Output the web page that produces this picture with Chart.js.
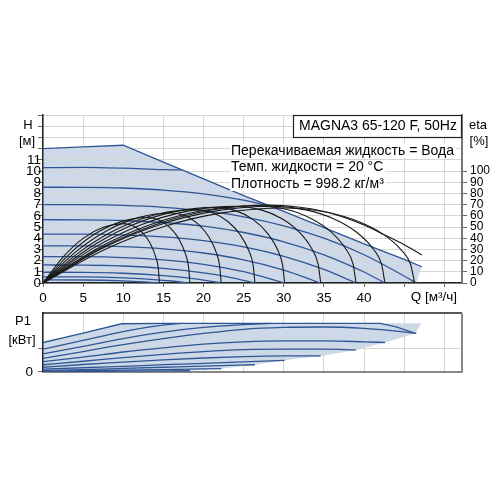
<!DOCTYPE html>
<html>
<head>
<meta charset="utf-8">
<script src="https://cdn.jsdelivr.net/npm/chart.js@4/dist/chart.umd.min.js"></script>
<style>
  body { margin: 0; background: #fff; width: 500px; height: 500px; position: relative; overflow: hidden; }
  canvas { position: absolute; left: 0; }
  #hChart { top: 100px; }
  #pChart { top: 300px; }
</style>
</head>
<body>
<canvas id="hChart" width="500" height="210"></canvas>
<canvas id="pChart" width="500" height="85"></canvas>
<script>
// ---- data: [Q m3/h, value] ----
const modelName = 'MAGNA3 65-120 F, 50Hz';
const infoLines = ['Перекачиваемая жидкость = Вода', 'Темп. жидкости = 20 °C', 'Плотность = 998.2 кг/м³'];

// head curves H [m]
const hMax = [[0,12.0],[5,12.15],[10,12.3],[15,10.8],[20,9.3],[25,7.8],[30,6.4],[35,4.95],[40,3.5],[45,2.1],[47.2,1.45]];
const hL1 = [[0,10.3],[5,10.32],[10,10.25],[15,10.12],[17.3,10.1]];
const hL2 = [[0,8.55],[5,8.54],[10,8.48],[15,8.3],[20,7.96],[25,7.39],[28.4,6.85]];
const hL3 = [[0,7.0],[5,6.99],[10,6.93],[15,6.76],[20,6.44],[25,5.91],[30,5.11],[35,4.0],[40,2.52],[45,0.62],[46.5,0]];
const hL4 = [[0,5.65],[5,5.64],[10,5.58],[15,5.4],[20,5.07],[25,4.51],[30,3.68],[35,2.52],[40,0.98],[42.6,0]];
const hL5 = [[0,4.37],[5,4.36],[10,4.3],[15,4.12],[20,3.78],[25,3.22],[30,2.38],[35,1.21],[39,0]];
const hL6 = [[0,3.32],[5,3.31],[10,3.24],[15,3.05],[20,2.68],[25,2.07],[30,1.16],[34.6,0]];
const hL7 = [[0,2.36],[5,2.35],[10,2.27],[15,2.07],[20,1.67],[25,1.01],[30.1,0]];
const hL8 = [[0,1.61],[5,1.6],[10,1.52],[15,1.31],[20,0.91],[23,0.55],[26.4,0]];
const hL9 = [[0,0.96],[5,0.95],[10,0.87],[15,0.66],[18,0.45],[20,0.26],[22.2,0]];
const hL10 = [[0,0.55],[5,0.54],[10,0.46],[13,0.35],[16,0.18],[18.3,0]];
const hL11 = [[0,0.28],[5,0.27],[10,0.19],[12.5,0.1],[14.5,0]];
const hFillEnd = [[46.5,0],[0,0]];

// efficiency curves eta [%]
const eta1 = [[0,0],[2.5,23.2],[5,39.8],[7.5,49.7],[10,53],[11.35,50.6],[12.48,44.3],[13.38,35],[14.05,23.1],[14.37,12.9],[14.5,0]];
const eta2 = [[0,0],[3.25,25.6],[6.5,43.9],[9.75,54.8],[13,58.5],[14.59,55.8],[15.92,48.8],[16.98,38.7],[17.77,25.5],[18.14,14.2],[18.3,0]];
const eta3 = [[0,0],[4,27.3],[8,46.9],[12,58.6],[16,62.5],[17.86,59.6],[19.41,52.2],[20.65,41.3],[21.58,27.3],[22.01,15.2],[22.2,0]];
const eta4 = [[0,0],[4.75,28.7],[9.5,49.1],[14.25,61.4],[19,65.5],[21.22,62.5],[23.07,54.7],[24.55,43.3],[25.66,28.6],[26.18,15.9],[26.4,0]];
const eta5 = [[0,0],[5.4,29.5],[10.75,50.6],[16.1,63.3],[21.5,67.5],[24.08,64.4],[26.23,56.4],[27.95,44.6],[29.24,29.4],[29.84,16.4],[30.1,0]];
const eta6 = [[0,0],[6,30],[12,51.4],[18,64.2],[24,68.5],[27.18,65.3],[29.83,57.2],[31.95,45.3],[33.54,29.9],[34.28,16.6],[34.6,0]];
const eta7 = [[0,0],[6.6,30.2],[13.25,51.75],[19.9,64.7],[26.5,69],[30.25,65.8],[33.38,57.6],[35.88,45.6],[37.75,30.1],[38.63,16.8],[39,0]];
const eta8 = [[0,0],[7.1,30],[14.25,51.4],[21.4,64.2],[28.5,68.5],[32.73,65.3],[36.26,57.2],[39.08,45.3],[41.19,29.9],[42.18,16.6],[42.6,0]];
const eta9 = [[0,0],[7.5,29.3],[15,50.25],[22.5,62.8],[30,67],[34.89,63.9],[38.97,55.9],[42.23,44.3],[44.67,29.2],[45.81,16.3],[46.3,0]];
const etaMax = [[0,0],[7,30.4],[14,52.1],[21,65.2],[28,69.5],[32,67.6],[35,63.9],[38,57.4],[40,51.7],[42.5,43.1],[45,34.1],[47.2,25]];

// power curves P1
const pMax = [[0,0.635],[5,0.84],[9.8,1.04],[15,1.05],[25,1.05],[35,1.05],[42,1.05],[44,0.97],[46.4,0.83]];
const pL1 = [[0,0.49],[5,0.68],[10,0.87],[14,0.99],[17.3,1.05]];
const pL2 = [[0,0.39],[5,0.55],[10,0.72],[15,0.86],[20,0.96],[25,1.02],[28.4,1.05]];
const pL3 = [[0,0.29],[5,0.44],[10,0.59],[15,0.72],[20,0.83],[25,0.92],[30,0.96],[35,0.97],[40,0.94],[44,0.88],[46.5,0.83]];
const pL4 = [[0,0.22],[5,0.32],[10,0.43],[15,0.52],[20,0.6],[25,0.65],[30,0.67],[35,0.67],[40,0.65],[42.6,0.635]];
const pL5 = [[0,0.154],[5,0.23],[10,0.31],[15,0.38],[20,0.44],[25,0.48],[30,0.49],[35,0.49],[39,0.475]];
const pL6 = [[0,0.1],[5,0.16],[10,0.21],[15,0.26],[20,0.3],[25,0.33],[30,0.345],[34.6,0.346]];
const pL7 = [[0,0.058],[5,0.09],[10,0.12],[15,0.155],[20,0.185],[25,0.215],[30.1,0.25]];
const pL8 = [[0,0.031],[5,0.05],[10,0.075],[15,0.1],[20,0.125],[26.4,0.154]];
const pL9 = [[0,0.014],[5,0.025],[10,0.038],[15,0.05],[22.2,0.07]];
const pL10 = [[0,0.006],[5,0.012],[10,0.018],[18.3,0.025]];
const pFillTop = [[0,0],[0,0.635],[9.8,1.04],[15,1.05],[47.1,1.05]];
const pFillBottom = [[46.4,0.83],[42.6,0.635],[39,0.475],[34.6,0.346],[30.1,0.25],[26.4,0.154],[22.2,0.07],[18.3,0.025],[14.5,0]];

// ---- styling ----
const FONT = '"Liberation Sans", Arial, sans-serif';
const lineBlue = '#2f5694';
const fillBlue = '#cdd9e8';
const gridGray = '#d6d6d6';
Chart.defaults.font.family = FONT;
Chart.defaults.font.size = 13;
Chart.defaults.color = '#000';

const toXY = pts => pts.map(p => ({ x: p[0], y: p[1] }));

function curve(pts, color, width, axis, smooth) {
  return {
    data: toXY(pts), yAxisID: axis, borderColor: color, borderWidth: width,
    pointRadius: 0, fill: false, tension: 0,
    cubicInterpolationMode: smooth ? 'monotone' : 'default'
  };
}
function area(pts, axis) {
  return {
    data: toXY(pts), yAxisID: axis, backgroundColor: fillBlue, borderColor: 'rgba(0,0,0,0)',
    borderWidth: 0, pointRadius: 0, fill: 'shape', tension: 0
  };
}

// ---- head / efficiency chart ----
const hDatasets = [];
[eta1, eta2, eta3, eta4, eta5, eta6, eta7, eta8, eta9, etaMax]
  .forEach(c => hDatasets.push(curve(c, '#1a1a1a', 1.1, 'y1', true)));
hDatasets.push(curve(hMax, lineBlue, 1.3, 'y', false));
[hL1, hL2, hL3, hL4, hL5, hL6, hL7, hL8, hL9, hL10, hL11]
  .forEach(c => hDatasets.push(curve(c, lineBlue, 1.3, 'y', true)));
hDatasets.push(area(hMax.concat(hFillEnd), 'y'));

const hText = {
  id: 'hText',
  afterDraw(chart) {
    const ctx = chart.ctx, a = chart.chartArea;
    ctx.save();
    ctx.font = '14px ' + FONT;
    ctx.textBaseline = 'middle';
    // model box
    ctx.fillStyle = '#fff';
    ctx.fillRect(a.right - 169, a.top, 169, 22);
    ctx.strokeStyle = '#222';
    ctx.lineWidth = 1.2;
    ctx.strokeRect(a.right - 169 + 0.5, a.top + 0.5, 168, 22);
    ctx.fillStyle = '#000';
    ctx.textAlign = 'center';
    ctx.fillText(modelName, a.right - 84, a.top + 11.5);
    // liquid info
    ctx.textAlign = 'left';
    infoLines.forEach((t, i) => {
      const y = a.top + 36 + i * 16.5;
      const w = ctx.measureText(t).width;
      ctx.fillStyle = '#fff';
      ctx.fillRect(a.left + 187, y - 7, w + 3, 14);
      ctx.fillStyle = '#000';
      ctx.fillText(t, a.left + 188, y);
    });
    // axis titles
    ctx.font = '13px ' + FONT;
    ctx.textAlign = 'center';
    ctx.fillText('H', 28, a.top + 10);
    ctx.fillText('[м]', 27, a.top + 26);
    ctx.fillText('eta', 478, a.top + 10);
    ctx.fillText('[%]', 479, a.top + 26);
    ctx.font = '13.5px ' + FONT;
    ctx.textAlign = 'right';
    ctx.fillText('Q [м³/ч]', 457, a.bottom + 14);
    ctx.restore();
  }
};

new Chart(document.getElementById('hChart'), {
  type: 'line',
  data: { datasets: hDatasets },
  options: {
    responsive: false, animation: false,
    layout: { padding: { top: 15, left: 0, right: 0, bottom: 0 } },
    plugins: { legend: { display: false }, tooltip: { enabled: false }, filler: { drawTime: 'beforeDraw' } },
    scales: {
      x: {
        type: 'linear', min: 0, max: 52.2,
        ticks: { stepSize: 5, autoSkip: false, maxRotation: 0, includeBounds: false, padding: 3,
                 font: { size: 13.5 }, callback: v => v <= 40 ? v : '' },
        grid: { color: gridGray, tickLength: 4, tickColor: '#666' },
        border: { color: '#222', width: 1.5 },
        afterFit: s => { s.height = 27; }
      },
      y: {
        position: 'left', min: 0, max: 15,
        ticks: { stepSize: 1, autoSkip: false, padding: -3, font: { size: 13.5 },
                 callback: v => v <= 11 ? v : '' },
        grid: { color: gridGray, tickLength: 5, tickColor: '#666' },
        border: { color: '#222', width: 1.5 },
        afterFit: s => { s.width = 43; }
      },
      y1: {
        position: 'right', min: 0, max: 150,
        ticks: { stepSize: 10, autoSkip: false, padding: 3, font: { size: 12 },
                 callback: v => v <= 100 ? v : '' },
        grid: { drawOnChartArea: false, tickLength: 5,
                tickColor: c => (c.tick && c.tick.value <= 100) ? '#666' : 'rgba(0,0,0,0)' },
        border: { color: '#777', width: 2 },
        afterFit: s => { s.width = 38; }
      }
    }
  },
  plugins: [hText]
});

// ---- power chart ----
const pDatasets = [];
pDatasets.push(curve(pMax, lineBlue, 1.3, 'y', false));
[pL1, pL2, pL3, pL4, pL5, pL6, pL7, pL8, pL9, pL10]
  .forEach(c => pDatasets.push(curve(c, lineBlue, 1.3, 'y', true)));
pDatasets.push(area(pFillTop.concat(pFillBottom), 'y'));

const pText = {
  id: 'pText',
  afterDraw(chart) {
    const ctx = chart.ctx, a = chart.chartArea;
    ctx.save();
    ctx.strokeStyle = '#222';
    ctx.lineWidth = 1.5;
    ctx.beginPath();
    ctx.moveTo(a.left, a.top);
    ctx.lineTo(a.right, a.top);
    ctx.stroke();
    ctx.strokeStyle = '#888';
    ctx.lineWidth = 2;
    ctx.beginPath();
    ctx.moveTo(a.right, a.top);
    ctx.lineTo(a.right, a.bottom + 1);
    ctx.stroke();
    ctx.fillStyle = '#000';
    ctx.font = '13px ' + FONT;
    ctx.textAlign = 'center';
    ctx.textBaseline = 'middle';
    ctx.fillText('P1', 23, a.top + 8);
    ctx.fillText('[кВт]', 22, a.top + 27);
    ctx.restore();
  }
};

new Chart(document.getElementById('pChart'), {
  type: 'line',
  data: { datasets: pDatasets },
  options: {
    responsive: false, animation: false,
    layout: { padding: { top: 8, left: 0, right: 38, bottom: 0 } },
    plugins: { legend: { display: false }, tooltip: { enabled: false }, filler: { drawTime: 'beforeDraw' } },
    scales: {
      x: {
        type: 'linear', min: 0, max: 52.2,
        ticks: { display: false, stepSize: 5, includeBounds: false },
        grid: { color: gridGray, drawTicks: false },
        border: { color: '#888', width: 2 },
        afterFit: s => { s.height = 12; }
      },
      y: {
        position: 'left', min: 0, max: 1.27,
        afterBuildTicks: s => { s.ticks = [{ value: 0 }, { value: 0.5 }]; },
        ticks: { padding: 5, font: { size: 13.5 }, callback: v => v === 0 ? '0' : '' },
        grid: { color: gridGray, tickLength: 5, tickColor: '#666' },
        border: { color: '#222', width: 1.5 },
        afterFit: s => { s.width = 43; }
      }
    }
  },
  plugins: [pText]
});
</script>
</body>
</html>
